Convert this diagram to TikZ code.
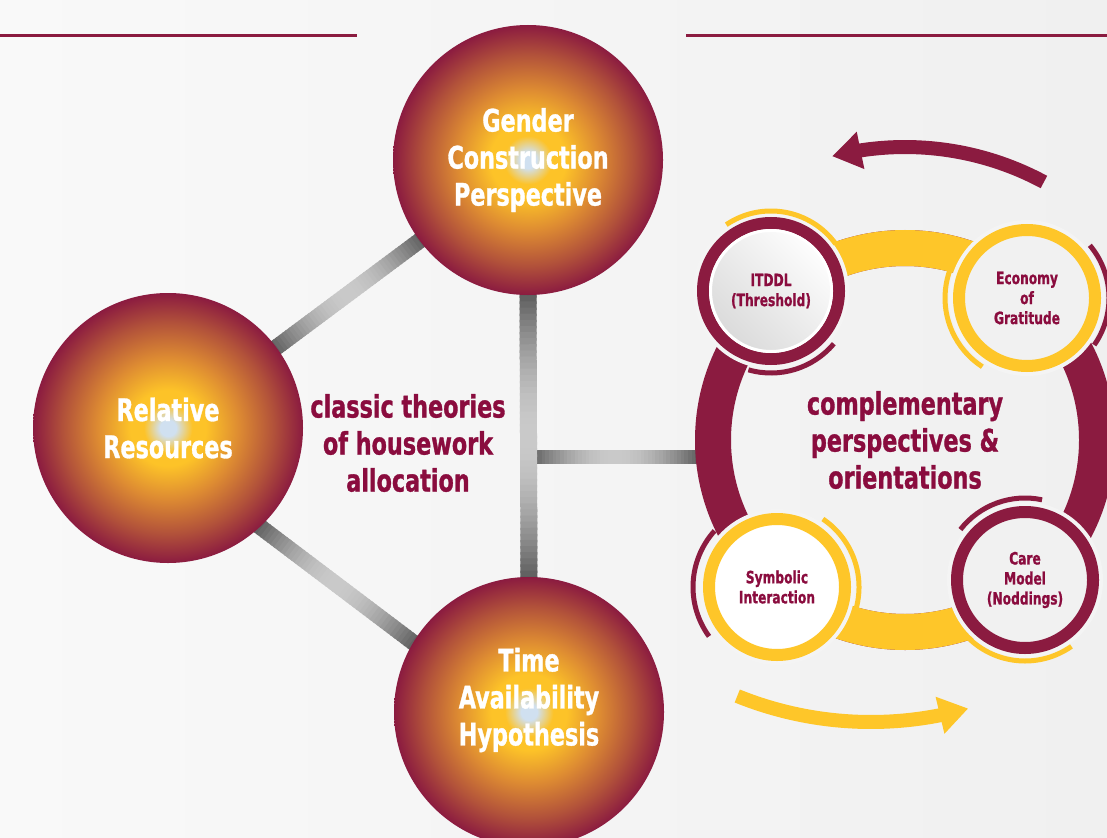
\documentclass[tikz,border=0pt]{standalone}
\usepackage{fontspec}
\usetikzlibrary{calc,arrows.meta,bending}
\newfontfamily\hfont{DejaVu Sans Condensed Bold}[FakeStretch=0.8,FakeBold=1]

\definecolor{crim}{RGB}{139,27,64}
\definecolor{wine}{RGB}{138,12,62}
\definecolor{gold}{RGB}{254,198,41}
\definecolor{bgl}{RGB}{249,249,249}
\definecolor{bgr}{RGB}{240,240,240}
\definecolor{bgmid}{RGB}{244,244,244}
\definecolor{bardk}{RGB}{88,88,88}
\definecolor{barlt}{RGB}{202,202,202}
\definecolor{glow}{RGB}{208,224,240}
\definecolor{ballyel}{RGB}{253,195,40}
\definecolor{ballorg}{RGB}{222,140,50}
\definecolor{ballmid}{RGB}{178,82,58}
\definecolor{innergray}{RGB}{241,241,241}

% sphere-like shading of the three theory discs (radius = 25bp)
\pgfdeclareradialshading{ballshade}{\pgfpoint{0bp}{0bp}}{%
  color(0bp)=(glow); color(1.5bp)=(glow); color(4.5bp)=(ballyel);
  color(7bp)=(ballyel); color(13bp)=(ballorg); color(19.5bp)=(ballmid);
  color(25bp)=(crim); color(50bp)=(crim)}

\pgfdeclarelayer{bglayer}
\pgfsetlayers{bglayer,main}

% metallic bar: dark at both ends, light in the middle
\newcommand\gradbar[3]{%
  \foreach \k in {0,...,47}{%
    \pgfmathsetmacro\ta{\k/48}%
    \pgfmathsetmacro\tb{min((\k+1.4)/48,1)}%
    \pgfmathtruncatemacro\pc{100*sin(180*(\k+0.5)/48)}%
    \draw[line width=#3, draw=barlt!\pc!bardk] ($(#1)!\ta!(#2)$) -- ($(#1)!\tb!(#2)$);
  }}

\tikzset{
  ball/.style={circle, inner sep=0pt, minimum size=270pt, shading=ballshade,
    text=white, align=center, font=\hfont\fontsize{31}{37}\selectfont},
  balltext/.style={text=white, align=center, font=\hfont\fontsize{31}{37}\selectfont},
  headtext/.style={text=wine, align=center, font=\hfont\fontsize{31}{37}\selectfont},
  smalltext/.style={text=wine, align=center, font=\hfont\fontsize{17}{20}\selectfont},
  smallring/.style={circle, inner sep=0pt, minimum size=136pt, line width=12pt,
    preaction={draw=bgmid, line width=20pt}},
  thinarc/.style={line width=5pt},
  band/.style={line width=36pt},
}

\begin{document}
\begin{tikzpicture}[x=1pt,y=1pt]
\useasboundingbox (0,0) rectangle (1107,-837);
\clip (0,0) rectangle (1107,-837);

\begin{pgfonlayer}{bglayer}
  \shade[left color=bgl, right color=bgr] (0,0) rectangle (1107,-837);
\end{pgfonlayer}

% header rules
\draw[crim, line width=3pt] (0,-36) -- (357,-36);
\draw[crim, line width=3pt] (686,-36) -- (1107,-36);

% classic theories
\node[ball] (gen) at (528,-160) {Gender\\Construction\\Perspective};
\node[ball] (rel) at (168,-428) {Relative\\Resources};
\node[ball] (tim) at (529,-712) {};
\node[balltext] (timtxt) at (529,-700) {Time\\Availability\\Hypothesis};
\node[headtext] (classic) at (408,-443) {classic theories\\of housework\\allocation};

% complementary perspectives
\node[circle, inner sep=0pt, minimum size=420pt, headtext] (ring) at (905,-440)
  {complementary\\perspectives \&\\orientations};
\draw[crim, band] (ring.center) circle[radius=192pt];
\draw[gold, band] (ring.center) ++(48:192pt) arc[start angle=48, end angle=132, radius=192pt];
\draw[gold, band] (ring.center) ++(228:192pt) arc[start angle=228, end angle=312, radius=192pt];

% connecting bars
\begin{pgfonlayer}{bglayer}
  \coordinate (hb) at (527,-457);
  \coordinate (hb2) at ($(hb -| ring.west)+(8,0)$);
  \coordinate (v1) at ($(gen.south)+(0,6)$);
  \coordinate (v2) at ($(tim.north)+(0,-6)$);
  \coordinate (u1) at ($(rel)!128pt!(gen)$);
  \coordinate (u2) at ($(gen)!128pt!(rel)$);
  \coordinate (l1) at ($(rel.-47)!-7pt!(tim.149)$);
  \coordinate (l2) at ($(tim.149)!-7pt!(rel.-47)$);
  \gradbar{hb}{hb2}{14pt}
  \gradbar{v1}{v2}{17pt}
  \gradbar{u1}{u2}{16pt}
  \gradbar{l1}{l2}{16pt}
\end{pgfonlayer}

% four orientation discs
\node[smallring, draw=crim, top color=white, bottom color=gray!30, shading angle=-45, smalltext]
  (itddl) at (771,-291) {ITDDL\\(Threshold)};
\draw[white, line width=3pt] (itddl.center) circle[radius=60.5pt];
\node[smallring, draw=gold, fill=innergray, smalltext] (econ) at (1027,-298) {Economy\\of\\Gratitude};
\node[smallring, draw=gold, fill=white, smalltext] (symb) at (777,-587) {Symbolic\\Interaction};
\node[smallring, draw=crim, fill=innergray, smalltext] (care) at (1025,-580) {Care\\Model\\(Noddings)};

% thin accent arcs
\draw[gold, thinarc] (itddl.center) ++(124:80pt) arc[start angle=124, end angle=36, radius=80pt];
\draw[crim, thinarc] (itddl.center) ++(-40:82pt) arc[start angle=-40, end angle=-106, radius=82pt];
\draw[gold, thinarc] (econ.center) ++(144:82pt) arc[start angle=144, end angle=237, radius=82pt];
\draw[crim, thinarc] (econ.center) ++(40:82pt) arc[start angle=40, end angle=-35, radius=82pt];
\draw[crim, thinarc] (symb.center) ++(138:84pt) arc[start angle=138, end angle=216, radius=84pt];
\draw[gold, thinarc] (symb.center) ++(56:82pt) arc[start angle=56, end angle=-20, radius=82pt];
\draw[crim, thinarc] (care.center) ++(78:82pt) arc[start angle=78, end angle=142, radius=82pt];
\draw[gold, thinarc] (care.center) ++(225:81pt) arc[start angle=225, end angle=305, radius=81pt];

% cycle arrows
\draw[crim, line width=14pt, -{Triangle[length=29pt,width=36pt]}]
  (ring.center) ++(61.7:293pt) arc[start angle=61.7, end angle=104.4, radius=293pt];
\coordinate (arrc) at (871,-365);
\draw[gold, line width=14pt, -{Triangle[length=29pt,width=36pt]}]
  (arrc) ++(248:357pt) arc[start angle=248, end angle=285.8, radius=357pt];
\end{tikzpicture}
\end{document}
